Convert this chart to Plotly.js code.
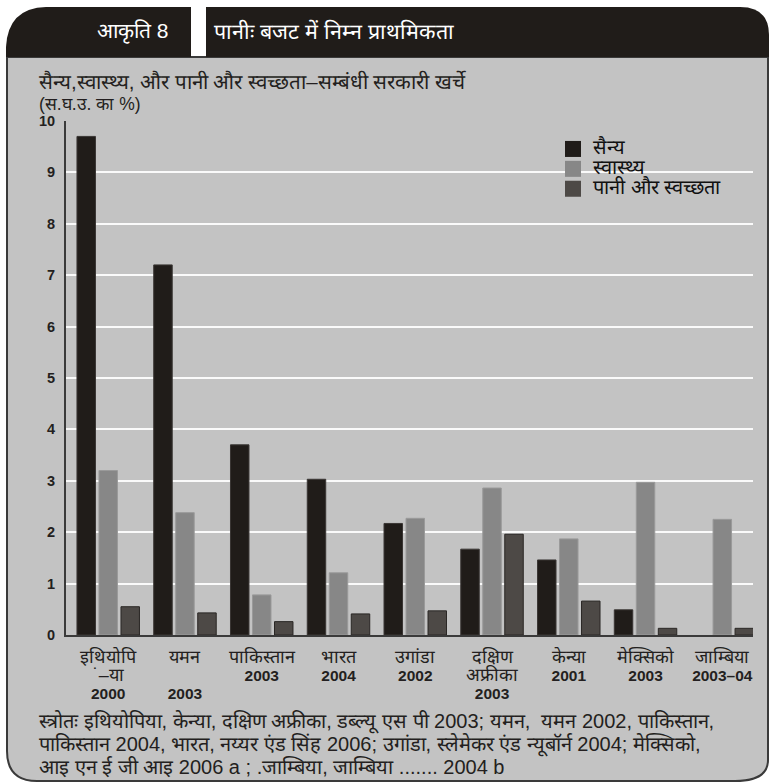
<!DOCTYPE html>
<html>
<head>
<meta charset="utf-8">
<script src="https://cdn.plot.ly/plotly-3.0.1.min.js"></script>
<style>html,body{margin:0;padding:0;background:#fff;}#chart{width:769px;height:784px;}</style>
</head>
<body>
<div id="chart"></div>
<script>
// ---- data ----
const countries = ['इथियोपि<br>˙–या', 'यमन<br>&nbsp;', 'पाकिस्तान', 'भारत', 'उगांडा', 'दक्षिण<br>अफ्रीका', 'केन्या', 'मेक्सिको', 'जाम्बिया'];
const years = ['2000', '2003', '2003', '2004', '2002', '2003', '2001', '2003', '2003–04'];
const military = [9.7, 7.2, 3.7, 3.03, 2.17, 1.67, 1.46, 0.49, null];
const health = [3.2, 2.38, 0.78, 1.21, 2.27, 2.86, 1.87, 2.97, 2.25];
const water = [0.55, 0.43, 0.26, 0.41, 0.47, 1.96, 0.66, 0.13, 0.13];
const seriesNames = ['सैन्य', 'स्वास्थ्य', 'पानी और स्वच्छता'];
const yTicks = [0, 1, 2, 3, 4, 5, 6, 7, 8, 9, 10];

const headerLabel = 'आकृति 8';
const headerTitle = 'पानीः बजट में निम्न प्राथमिकता';
const yTitle1 = 'सैन्य,स्वास्थ्य, और पानी और स्वच्छता–सम्बंधी सरकारी खर्चे';
const yTitle2 = '(स.घ.उ. का %)';
const sourceLines = [
  'स्त्रोतः इथियोपिया, केन्या, दक्षिण अफ्रीका, डब्ल्यू एस पी 2003; यमन,  यमन 2002, पाकिस्तान,',
  'पाकिस्तान 2004, भारत, नय्यर एंड सिंह 2006; उगांडा, स्लेमेकर एंड न्यूबॉर्न 2004; मेक्सिको,',
  'आइ एन ई जी आइ 2006 a ; .जाम्बिया, जाम्बिया ....... 2004 b'
];

const big = (t, s) => '<span style="font-size:' + s + 'px">' + t + '</span>';
const tickLabels = countries.map((c, i) =>
  c.split('<br>').map(l => big(l, 18)).join('<br>') + '<br><b>' + big(years[i], 15.5) + '</b>');

// ---- styles ----
const colors = ['#201c19', '#878787', '#4d4946'];
const lineColors = ['#3a3634', '#9a9a9a', '#2a2725'];
const bg = '#c3c3c3';
const dark = '#231f20';
const FONT = 'Liberation Sans, Arial, sans-serif';

// pixel -> paper helpers (plot area 66..753 x 121..635)
const L = 66, R = 753, T = 121, B = 635;
const px = x => (x - L) / (R - L);
const py = y => (B - y) / (B - T);
const P = (x, y) => px(x).toFixed(5) + ',' + py(y).toFixed(5);

const vals = [military, health, water];
const traces = vals.map((v, i) => ({
  type: 'bar', x: tickLabels, y: v, name: seriesNames[i], showlegend: false,
  marker: {color: colors[i], line: {color: lineColors[i], width: 1}},
  hoverinfo: 'y'
}));
seriesNames.forEach((n, i) => traces.push({
  type: 'scatter', mode: 'markers', x: [null], y: [null], name: big(n, 20),
  marker: {symbol: 'square', size: 16, color: colors[i], line: {width: 0}}
}));

const bodyPath = 'M' + P(7, 57) + ' L' + P(7, 751) + ' Q' + P(7, 781) + ' ' + P(37, 781) +
  ' L' + P(735, 781) + ' Q' + P(768, 781) + ' ' + P(768, 760) + ' L' + P(768, 57) + ' Z';
const headLeft = 'M' + P(6, 57) + ' L' + P(6, 47) + ' Q' + P(8, 8) + ' ' + P(46, 7) +
  ' L' + P(191, 7) + ' L' + P(191, 57) + ' Z';
const headRight = 'M' + P(206, 57) + ' L' + P(206, 7) + ' L' + P(740, 7) + ' Q' + P(769, 7) + ' ' + P(769, 35) +
  ' L' + P(769, 57) + ' Z';

const shapes = [
  {type: 'path', xref: 'paper', yref: 'paper', path: bodyPath, fillcolor: bg, line: {color: '#3a3a3a', width: 2}, layer: 'below'},
  {type: 'path', xref: 'paper', yref: 'paper', path: headLeft, fillcolor: '#201c19', line: {width: 0}, layer: 'below'},
  {type: 'path', xref: 'paper', yref: 'paper', path: headRight, fillcolor: '#201c19', line: {width: 0}, layer: 'below'},
  {type: 'rect', xref: 'paper', yref: 'paper', x0: px(519), x1: px(762), y0: py(130), y1: py(205), fillcolor: bg, line: {width: 0}, layer: 'between'}
];

const ann = (text, x, y, size, color, anchor) => ({
  text: text, xref: 'paper', yref: 'paper', x: px(x), y: py(y), xanchor: anchor || 'left', yanchor: 'middle',
  showarrow: false, font: {family: FONT, size: size, color: color}
});

const annotations = [
  ann(headerLabel, 133, 32, 21, '#ffffff', 'center'),
  ann(headerTitle, 212, 32, 21.5, '#ffffff'),
  ann(yTitle1, 37, 81, 20.5, dark),
  ann(yTitle2, 37, 104, 17.5, dark)
];
sourceLines.forEach((s, i) => annotations.push(ann(s, 37, 722 + i * 22.5, 20, dark)));

const layout = {
  width: 769, height: 784,
  margin: {l: L, r: 769 - R, t: T, b: 784 - B, pad: 0},
  paper_bgcolor: '#ffffff', plot_bgcolor: 'rgba(0,0,0,0)',
  barmode: 'group', bargap: 0.14, bargroupgap: 0.16,
  showlegend: true,
  legend: {x: px(553), y: py(134), xanchor: 'left', yanchor: 'top', bgcolor: 'rgba(0,0,0,0)',
    font: {family: FONT, size: 13, color: '#111'}, tracegroupgap: 0, itemwidth: 30},
  xaxis: {
    type: 'category', range: [-0.55, 8.4], showgrid: false, showline: true, linecolor: '#3a3a3a', linewidth: 2,
    ticks: '', tickfont: {family: FONT, size: 14, color: dark}, ticklabelstandoff: 9,
    tickangle: 0, fixedrange: true, zeroline: false
  },
  yaxis: {
    range: [0, 10], tickvals: yTicks, ticktext: yTicks.map(String), showgrid: true, gridcolor: '#fafafa', gridwidth: 2,
    showline: true, linecolor: '#3a3a3a', linewidth: 2, ticks: '', zeroline: false,
    tickfont: {family: FONT, size: 14.5, color: dark, weight: 'bold'},
    ticklabelstandoff: 6, fixedrange: true
  },
  shapes: shapes,
  annotations: annotations
};

Plotly.newPlot('chart', traces, layout, {displayModeBar: false, staticPlot: true});
</script>
</body>
</html>
